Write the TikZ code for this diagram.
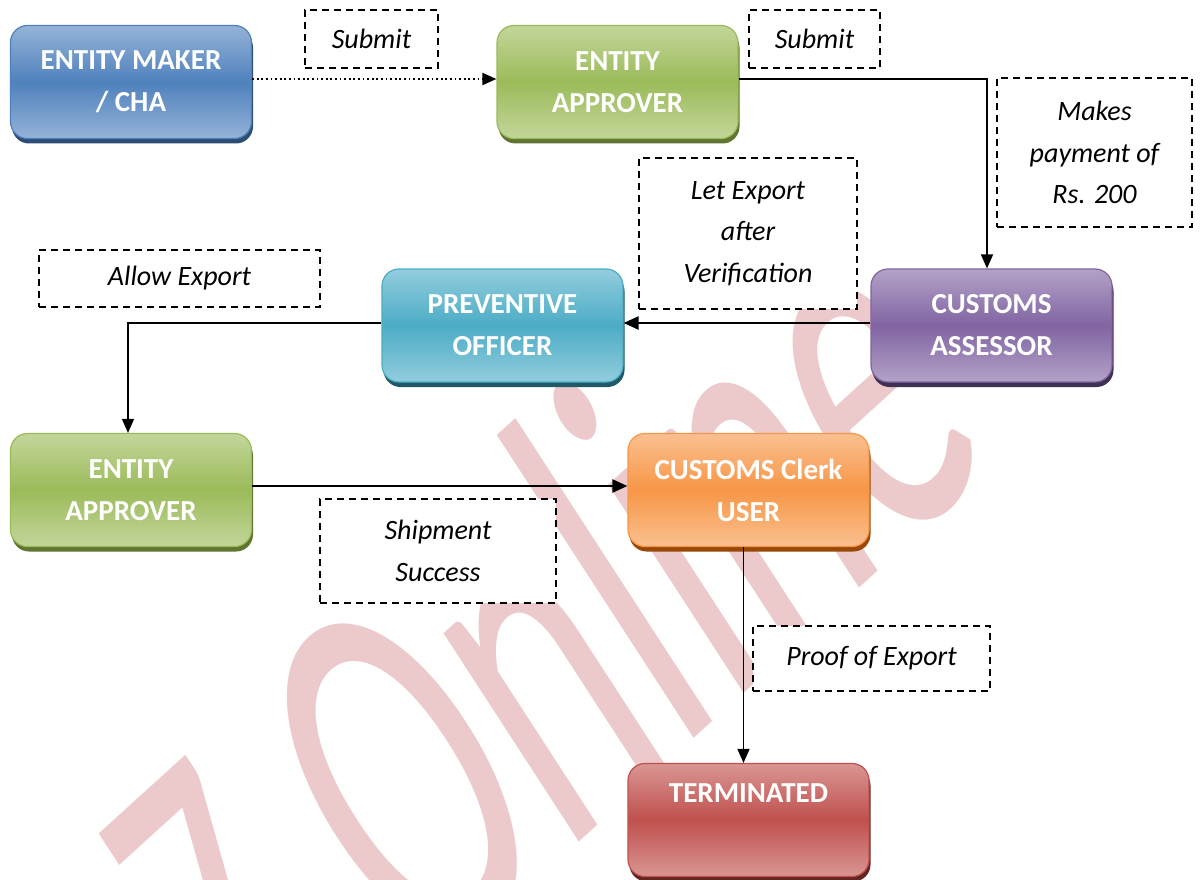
\documentclass[tikz,border=0pt]{standalone}
\usepackage{fontspec}
\setmainfont{Carlito}
\usetikzlibrary{arrows.meta,shadows,calc}
\definecolor{blueL}{HTML}{95B3D7}\definecolor{blueM}{HTML}{4F81BD}\definecolor{blueS}{HTML}{2C4D75}
\definecolor{greenL}{HTML}{C3D69B}\definecolor{greenM}{HTML}{9BBB59}\definecolor{greenS}{HTML}{5F7530}
\definecolor{purpL}{HTML}{B3A2C7}\definecolor{purpM}{HTML}{8064A2}\definecolor{purpS}{HTML}{3F3151}
\definecolor{cyanL}{HTML}{93CDDD}\definecolor{cyanM}{HTML}{4BACC6}\definecolor{cyanS}{HTML}{215968}
\definecolor{orgL}{HTML}{FAC090}\definecolor{orgM}{HTML}{F79646}\definecolor{orgS}{HTML}{984807}
\definecolor{redL}{HTML}{D99694}\definecolor{redM}{HTML}{C0504D}\definecolor{redS}{HTML}{632523}
\definecolor{wmpink}{HTML}{ECC9CA}
\begin{document}
\begin{tikzpicture}[x=1pt,y=-1pt,
  proc/.style n args={3}{rectangle, rounded corners=17pt, minimum width=241pt, minimum height=113pt,
    line width=1.2pt, draw=#2, top color=#1, bottom color=#1, middle color=#2,
    drop shadow={shadow xshift=1.5pt, shadow yshift=-5pt, fill=#3, opacity=1},
    text=white, font=\fontsize{29}{42}\selectfont\bfseries, align=center, inner sep=0pt},
  lbl/.style={draw=black, fill=white, line width=1.5pt, dash pattern=on 7pt off 5pt,
    font=\fontsize{28}{41.5}\selectfont\itshape, align=center, inner sep=0pt},
  arr/.style={line width=1.5pt, -{Triangle[length=14pt,width=12pt]}},
  arrT/.style={line width=2.4pt, -{Triangle[length=15pt,width=13pt]}},
  dotarr/.style={line width=1.8pt, dash pattern=on 1.8pt off 2.8pt, -{Triangle[length=14pt,width=12pt]}},
  wmark/.style={text=wmpink, font=\fontsize{100}{100}\selectfont, inner sep=0pt}
]
\useasboundingbox (0,0) rectangle (1202,880);
\fill[white] (0,0) rectangle (1202,880);
\begin{scope}
\clip (0,0) rectangle (1202,880);
\node[wmark, cm={2.165,1.967,-2.834,4.363,(0,0)}, anchor=base west] (wm) at (270.8,1122.5) {Z Online};
\end{scope}

\node[proc={blueL}{blueM}{blueS}] (maker) at (131,82) {ENTITY MAKER\\/ CHA};
\node[proc={greenL}{greenM}{greenS}] (appr1) at (617.5,82) {ENTITY\\APPROVER};
\node[proc={purpL}{purpM}{purpS}] (assr) at (991.5,325.5) {CUSTOMS\\ASSESSOR};
\node[proc={cyanL}{cyanM}{cyanS}] (prev) at (502.5,325.5) {PREVENTIVE\\OFFICER};
\node[proc={greenL}{greenM}{greenS}] (appr2) at (131,490) {ENTITY\\APPROVER};
\node[proc={orgL}{orgM}{orgS}] (clerk) at (748.5,490) {CUSTOMS Clerk\\USER};
\node[proc={redL}{redM}{redS}] (term) at (748.5,820) {TERMINATED\\\strut};

\node[lbl, minimum width=133pt, minimum height=58pt] (s1) at (371.5,39) {Submit};
\node[lbl, minimum width=131pt, minimum height=58pt] (s2) at (814.5,39) {Submit};
\node[lbl, minimum width=195pt, minimum height=149pt] (pay) at (1094.5,152.5) {Makes\\payment of\\Rs. 200};
\node[lbl, minimum width=218pt, minimum height=151pt] (let) at (748,233.5) {Let Export\\after\\Verification};
\node[lbl, minimum width=281pt, minimum height=57pt] (allow) at (179.5,278.5) {Allow Export};
\node[lbl, minimum width=236pt, minimum height=104pt] (ship) at (438,551) {Shipment\\Success};
\node[lbl, minimum width=237pt, minimum height=65pt] (proof) at (871.5,658.5) {Proof of Export};

\draw[dotarr] ([yshift=3pt]maker.east) -- ([yshift=3pt]appr1.west);
\draw[arr] ([yshift=3pt]appr1.east) -| ([xshift=-4.5pt]assr.north);
\draw[arrT] ([yshift=2.5pt]assr.west) -- ([yshift=2.5pt]prev.east);
\draw[arr] ([yshift=2.5pt]prev.west) -| ([xshift=-3pt]appr2.north);
\draw[arrT] ([yshift=4pt]appr2.east) -- ([yshift=4pt]clerk.west);
\draw[arr] ([xshift=-5pt]clerk.south) -- ([xshift=-5pt]term.north);
\end{tikzpicture}
\end{document}
